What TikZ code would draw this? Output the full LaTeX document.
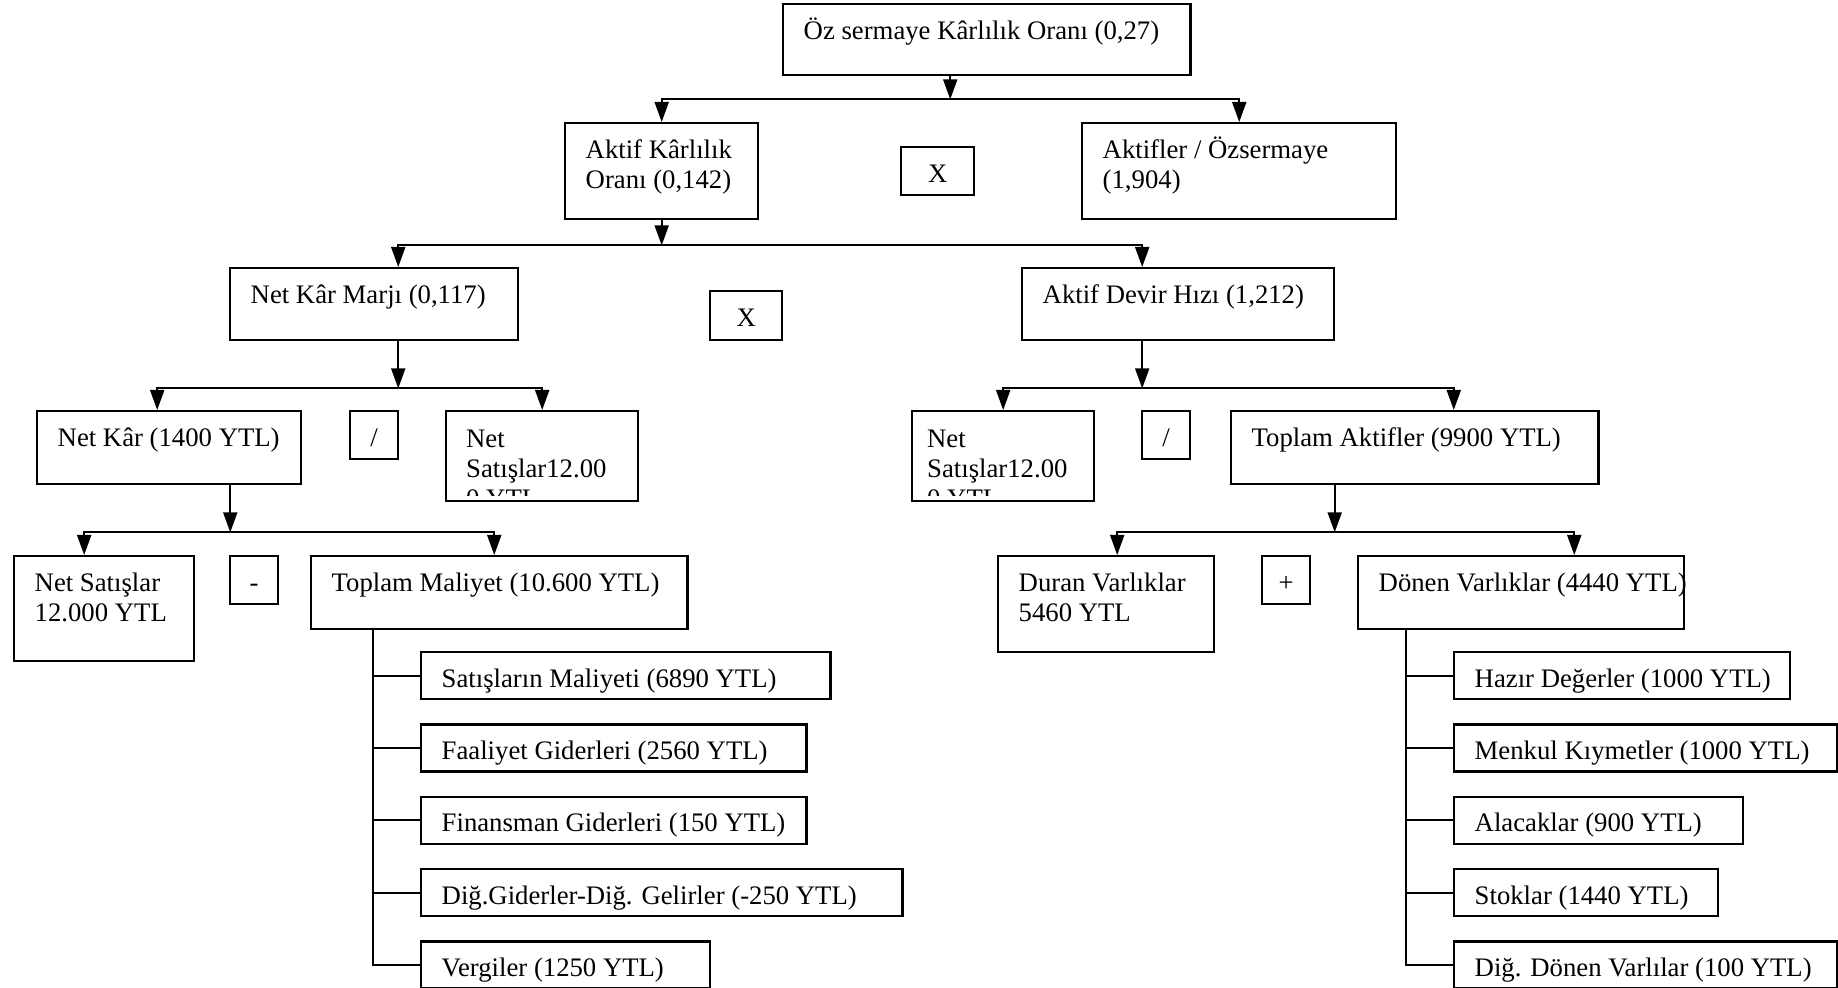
\documentclass[tikz,border=0pt]{standalone}
\usepackage{fontspec}
\setmainfont{Liberation Serif}
\usetikzlibrary{arrows.meta,positioning}
\definecolor{dpline}{RGB}{0,0,0}
\tikzset{
  dpbox/.style={
    draw=dpline, line width=0.65pt, anchor=north west, inner sep=0pt
  },
  dptxt/.style={
    font=\fontsize{7.6}{8.5}\selectfont, inner sep=0pt, align=left,
    anchor=base west, xshift=0.21cm, yshift=-0.36cm
  },
  two/.style={dptxt, yshift=-0.30cm},
  optxt/.style={
    font=\fontsize{7.6}{8.5}\selectfont, inner sep=0pt,
    anchor=base, yshift=-0.36cm
  },
  dpop/.style={dpbox, minimum width=0.48cm, minimum height=0.48cm},
  rowbox/.style={dpbox, minimum height=0.47cm},
  cut/.style={
    path picture={
      \clip ([yshift=-0.84cm]path picture bounding box.north west)
        rectangle (path picture bounding box.north east);
      \node[dptxt, xshift=-0.28cm, yshift=-0.60cm]
        at (path picture bounding box.north west) {#1};
    }
  },
  arr/.style={-{Triangle[length=2mm,width=1.4mm]}, draw=dpline, line width=0.55pt},
  darr/.style={{Triangle[length=2mm,width=1.4mm]}-{Triangle[length=2mm,width=1.4mm]},
    draw=dpline, line width=0.55pt},
  ln/.style={draw=dpline, line width=0.55pt}
}

\begin{document}
\begin{tikzpicture}[x=0.01cm, y=-0.01cm]
  \useasboundingbox (0,0) rectangle (1838,987);

  % top
  \node[dpbox, minimum width=4.07cm, minimum height=0.71cm,
    label={[dptxt]north west:Öz sermaye Kârlılık Oranı (0,27)}] (ozk) at (782,3) {};

  \node[dpbox, minimum width=1.93cm, minimum height=0.96cm,
    label={[two]north west:Aktif Kârlılık\\Oranı (0,142)}] (akt) at (564,122) {};
  \node[dpop, minimum width=0.73cm, label={[optxt]north:X}] (x1) at (900,146) {};
  \node[dpbox, minimum width=3.14cm, minimum height=0.96cm,
    label={[two]north west:Aktifler / Özsermaye\\(1,904)}] (aoz) at (1081,122) {};

  \node[dpbox, minimum width=2.88cm, minimum height=0.72cm,
    label={[dptxt]north west:Net Kâr Marjı (0,117)}] (nkm) at (229,267) {};
  \node[dpop, minimum width=0.72cm, minimum height=0.49cm,
    label={[optxt]north:X}] (x2) at (709,290) {};
  \node[dpbox, minimum width=3.12cm, minimum height=0.72cm,
    label={[dptxt]north west:Aktif Devir Hızı (1,212)}] (adh) at (1021,267) {};

  % ratio row
  \node[dpbox, minimum width=2.64cm, minimum height=0.73cm,
    label={[dptxt]north west:Net Kâr (1400 YTL)}] (nk) at (36,410) {};
  \node[dpop, label={[optxt]north:/}] (dv1) at (349,410) {};
  \node[dpbox, minimum width=1.92cm, minimum height=0.90cm,
    cut={Net\\Satışlar12.00\\0 YTL}] (ns1) at (445,410) {};
  \node[dpbox, minimum width=1.82cm, minimum height=0.90cm,
    cut={Net\\Satışlar12.00\\0 YTL}] (ns2) at (911,410) {};
  \node[dpop, label={[optxt]north:/}] (dv2) at (1141,410) {};
  \node[dpbox, minimum width=3.67cm, minimum height=0.73cm,
    label={[dptxt]north west:Toplam Aktifler (9900 YTL)}] (ta) at (1230,410) {};

  % sums
  \node[dpbox, minimum width=1.80cm, minimum height=1.05cm,
    label={[two]north west:Net Satışlar\\12.000 YTL}] (nsl) at (13,555) {};
  \node[dpop, label={[optxt]north:-}] (mn) at (229,555) {};
  \node[dpbox, minimum width=3.76cm, minimum height=0.73cm,
    label={[dptxt]north west:Toplam Maliyet (10.600 YTL)}] (tm) at (310,555) {};
  \node[dpbox, minimum width=2.16cm, minimum height=0.96cm,
    label={[two]north west:Duran Varlıklar\\5460 YTL}] (dur) at (997,555) {};
  \node[dpop, label={[optxt]north:+}] (pl) at (1261,555) {};
  \node[dpbox, minimum width=3.26cm, minimum height=0.73cm,
    label={[dptxt]north west:Dönen Varlıklar (4440 YTL)}] (don) at (1357,555) {};

  % costs
  \node[rowbox, minimum width=4.09cm,
    label={[dptxt]north west:Satışların Maliyeti (6890 YTL)}] (sm) at (420,651) {};
  \node[rowbox, minimum width=3.85cm, below=0.23cm of sm.south west, anchor=north west,
    label={[dptxt]north west:Faaliyet Giderleri (2560 YTL)}] (fg) {};
  \node[rowbox, minimum width=3.85cm, below=0.23cm of fg.south west, anchor=north west,
    label={[dptxt]north west:Finansman Giderleri (150 YTL)}] (fin) {};
  \node[rowbox, minimum width=4.81cm, below=0.23cm of fin.south west, anchor=north west,
    label={[dptxt]north west:Diğ.Giderler-Diğ. Gelirler (-250 YTL)}] (dig) {};
  \node[rowbox, minimum width=2.89cm, below=0.23cm of dig.south west, anchor=north west,
    label={[dptxt]north west:Vergiler (1250 YTL)}] (ver) {};

  % current assets
  \node[rowbox, minimum width=3.36cm,
    label={[dptxt]north west:Hazır Değerler (1000 YTL)}] (hz) at (1453,651) {};
  \node[rowbox, minimum width=3.83cm, below=0.23cm of hz.south west, anchor=north west,
    label={[dptxt]north west:Menkul Kıymetler (1000 YTL)}] (mk) {};
  \node[rowbox, minimum width=2.89cm, below=0.23cm of mk.south west, anchor=north west,
    label={[dptxt]north west:Alacaklar (900 YTL)}] (al) {};
  \node[rowbox, minimum width=2.64cm, below=0.23cm of al.south west, anchor=north west,
    label={[dptxt]north west:Stoklar (1440 YTL)}] (st) {};
  \node[rowbox, minimum width=3.83cm, below=0.23cm of st.south west, anchor=north west,
    label={[dptxt]north west:Diğ. Dönen Varlılar (100 YTL)}] (dd) {};

  % connectors
  \path ([xshift=-0.365cm]ozk.south) ++(0,23) coordinate (j1);
  \draw[arr] ([xshift=-0.365cm]ozk.south) -- (j1);
  \draw[darr] (akt.north) |- (j1) -| (aoz.north);

  \path (akt.south) ++(0,25) coordinate (j2);
  \draw[arr] (akt.south) -- (j2);
  \draw[darr] ([xshift=0.24cm]nkm.north) |- (j2) -| ([xshift=-0.36cm]adh.north);

  \path ([xshift=0.24cm]nkm.south) ++(0,47) coordinate (j3);
  \draw[arr] ([xshift=0.24cm]nkm.south) -- (j3);
  \draw[darr] ([xshift=-0.12cm]nk.north) |- (j3) -| (ns1.north);

  \path ([xshift=-0.36cm]adh.south) ++(0,47) coordinate (j4);
  \draw[arr] ([xshift=-0.36cm]adh.south) -- (j4);
  \draw[darr] (ns2.north) |- (j4) -| ([xshift=0.39cm]ta.north);

  \path ([xshift=0.61cm]nk.south) ++(0,47) coordinate (j5);
  \draw[arr] ([xshift=0.61cm]nk.south) -- (j5);
  \draw[darr] ([xshift=-0.2cm]nsl.north) |- (j5) -| ([xshift=-0.05cm]tm.north);

  \path ([xshift=-0.8cm]ta.south) ++(0,47) coordinate (j6);
  \draw[arr] ([xshift=-0.8cm]ta.south) -- (j6);
  \draw[darr] ([xshift=0.11cm]dur.north) |- (j6) -| ([xshift=0.53cm]don.north);

  \foreach \c in {sm,fg,fin,dig,ver}
    \draw[ln] ([xshift=0.63cm]tm.south west) |- (\c.west);
  \foreach \c in {hz,mk,al,st,dd}
    \draw[ln] ([xshift=0.49cm]don.south west) |- (\c.west);
\end{tikzpicture}
\end{document}
